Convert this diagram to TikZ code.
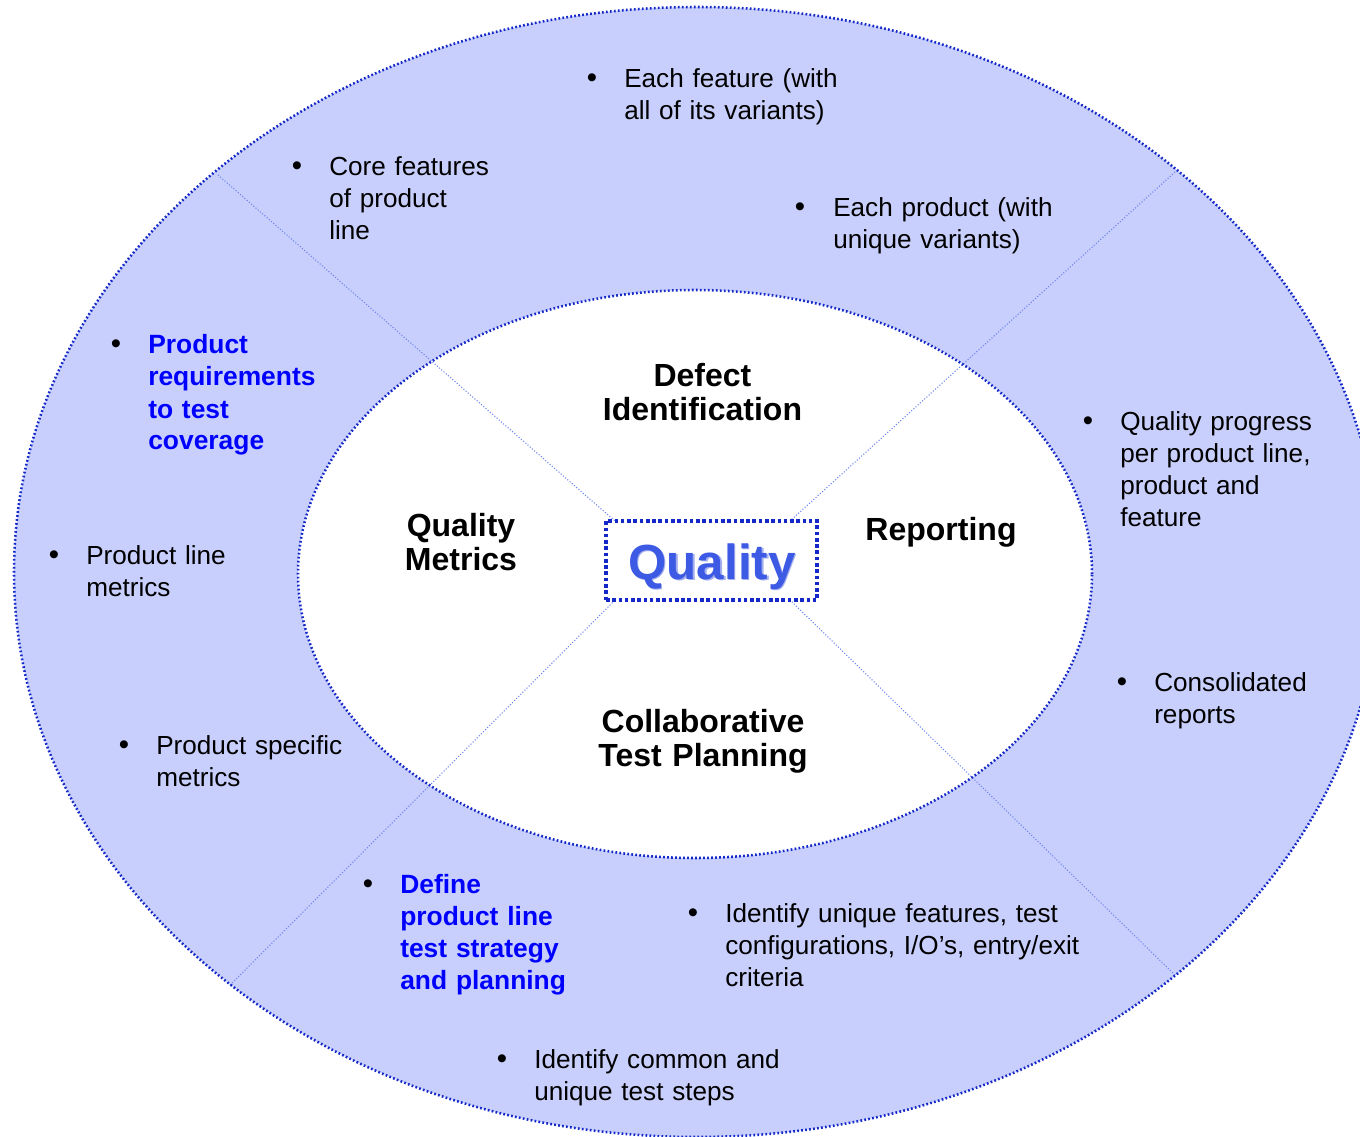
\documentclass[tikz,border=0pt]{standalone}
\usepackage{fontspec}
\setmainfont{Liberation Sans}
\definecolor{ringfill}{RGB}{200,207,252}
\definecolor{borderblue}{RGB}{20,40,200}
\definecolor{diagblue}{RGB}{110,130,240}
\definecolor{textblue}{RGB}{0,0,255}
\definecolor{qmain}{RGB}{60,90,228}
\definecolor{qshadow}{RGB}{165,175,238}
\begin{document}
\begin{tikzpicture}[x=0.75pt,y=-0.75pt,
  ringborder/.style={draw=borderblue, line width=1.9pt, dash pattern=on 1.3pt off 1.7pt},
  diagline/.style={draw=diagblue, line width=0.8pt, dash pattern=on 0.8pt off 1.4pt},
  qbox/.style={draw=borderblue, fill=white, line width=2.3pt, dash pattern=on 2.7pt off 2pt, minimum width=158.25pt, minimum height=59.25pt, inner sep=0pt},
  body/.style={font=\fontsize{19.6}{24}\selectfont, inner sep=0pt, anchor=base west, text width=330pt, align=left},
  bluebody/.style={body, font=\bfseries\fontsize{19.8}{24}\selectfont, text=textblue},
  bul/.style={font=\fontsize{22}{24}\selectfont, inner sep=0pt, anchor=base},
  head/.style={font=\bfseries\fontsize{24}{25.5}\selectfont, inner sep=0pt, anchor=base, text width=260pt, align=center},
  qtext/.style={font=\bfseries\fontsize{37}{40}\selectfont, inner sep=0pt, anchor=base}
]
\useasboundingbox (0,0) rectangle (1360,1137);
\coordinate (c) at (697,572);
\coordinate (ci) at (695,574);
% outer ends of the dividing lines
\coordinate (o1) at (218,175);
\coordinate (o2) at (1175,172);
\coordinate (o3) at (230,985);
\coordinate (o4) at (1175,975);
% inner ends (on the centre box)
\coordinate (i1) at (615,521);
\coordinate (i2) at (790,521);
\coordinate (i3) at (615,600);
\coordinate (i4) at (790,600);
\begin{scope}
\clip (0,0) rectangle (1360,1137);
\fill[ringfill] (c) ellipse [x radius=512.25pt, y radius=423.75pt];
\fill[white] (ci) ellipse [x radius=297.75pt, y radius=213pt];
\draw[diagline] (o1) -- (i1);
\draw[diagline] (o2) -- (i2);
\draw[diagline] (o3) -- (i3);
\draw[diagline] (o4) -- (i4);
\draw[ringborder] (c) ellipse [x radius=512.25pt, y radius=423.75pt];
\draw[ringborder] (ci) ellipse [x radius=297.75pt, y radius=213pt];
\end{scope}
% centre box
\node[qbox] (q) at (711.5,560.5) {};
\node[qtext, text=qshadow] (qs) at (713.5,580.5) {Quality};
\node[qtext, text=qmain] (qt) at (712,579) {Quality};
% headers
\node[head] (h1) at (702.5,387) {Defect\\Identification};
\node[head] (h2) at (461,536) {Quality\\Metrics};
\node[head] (h3) at (941,540) {Reporting};
\node[head] (h4) at (703,732) {Collaborative\\Test Planning};
% bullet items
\node[bul] (b1) at (592,87.5) {•};
\node[body] (t1) at (624,87.5) {Each feature (with\\all of its variants)};
\node[bul] (b2) at (297,175.5) {•};
\node[body] (t2) at (329,175.5) {Core features\\of product\\line};
\node[bul] (b3) at (800,216.5) {•};
\node[body] (t3) at (833,216.5) {Each product (with\\unique variants)};
\node[bul] (b4) at (116,354) {•};
\node[bluebody] (t4) at (148,354) {Product\\requirements\\to test\\coverage};
\node[bul] (b5) at (1088,430.5) {•};
\node[body] (t5) at (1120,430.5) {Quality progress\\per product line,\\product and\\feature};
\node[bul] (b6) at (54,564.5) {•};
\node[body] (t6) at (86,564.5) {Product line\\metrics};
\node[bul] (b7) at (1122,691.5) {•};
\node[body] (t7) at (1154,691.5) {Consolidated\\reports};
\node[bul] (b8) at (124,754.5) {•};
\node[body] (t8) at (156,754.5) {Product specific\\metrics};
\node[bul] (b9) at (368,893) {•};
\node[bluebody] (t9) at (400,893) {Define\\product line\\test strategy\\and planning};
\node[bul] (b10) at (693,922) {•};
\node[body] (t10) at (725,922) {Identify unique features, test\\configurations, I/O’s, entry/exit\\criteria};
\node[bul] (b11) at (502,1068.5) {•};
\node[body] (t11) at (534,1068.5) {Identify common and\\unique test steps};
\end{tikzpicture}
\end{document}
